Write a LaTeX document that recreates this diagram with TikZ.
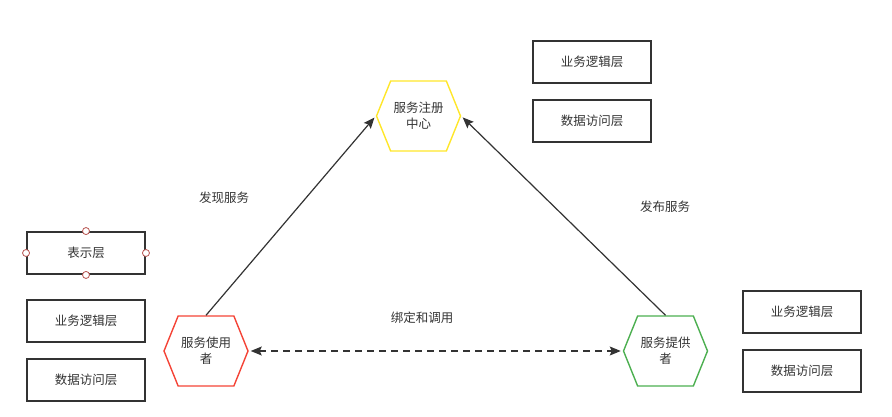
\documentclass[tikz,border=0pt]{standalone}
\usepackage{fontspec}
\setmainfont{Noto Sans CJK SC}
\usetikzlibrary{shapes.symbols, positioning, arrows.meta}

\definecolor{lineclr}{HTML}{333333}
\definecolor{regclr}{HTML}{FFE629}
\definecolor{useclr}{HTML}{F44336}
\definecolor{provclr}{HTML}{4CAF50}
\definecolor{portclr}{HTML}{B85450}

\tikzset{
  hexa/.style={signal, signal to=east and west, signal pointer angle=136,
    minimum width=84pt, minimum height=70pt, inner sep=0pt, line width=1.4pt,
    align=center, text=lineclr, font=\fontsize{12.5}{16}\selectfont},
  layer/.style={draw=lineclr, line width=1.9pt, minimum width=118pt, minimum height=42pt,
    inner sep=0pt, text=lineclr, font=\fontsize{12.5}{15}\selectfont},
  port/.style={circle, draw=portclr, fill=white, line width=0.8pt, minimum size=7pt, inner sep=0pt},
  lbl/.style={text=lineclr, font=\fontsize{12.5}{15}\selectfont},
  link/.style={draw=lineclr, line width=1.2pt, -{Stealth[length=11pt, width=9pt, inset=2pt]}, shorten >=2pt}
}

\begin{document}
\begin{tikzpicture}[x=1pt, y=-1pt, node distance=15pt]

   \useasboundingbox (0,0) rectangle (892,417);

   % centre and the two parties
   \node[hexa, draw=regclr]  (reg)  at (418.5,116) {服务注册\\中心};
   \node[hexa, draw=useclr]  (user) at (206,351)   {服务使用\\者};
   \node[hexa, draw=provclr] (prov) at (665.5,351) {服务提供\\者};

   % layers of the registry
   \node[layer] (regbiz) at (592,62) {业务逻辑层};
   \node[layer] (regdao) [below=of regbiz] {数据访问层};

   % layers of the consumer
   \node[layer] (view)    at (86,253) {表示层};
   \node[layer] (userbiz) [below=24pt of view] {业务逻辑层};
   \node[layer] (userdao) [below=of userbiz] {数据访问层};
   \foreach \a in {north, south, east, west}
      \node[port] at (view.\a) {};

   % layers of the provider
   \node[layer] (provbiz) at (802,312) {业务逻辑层};
   \node[layer] (provdao) [below=of provbiz] {数据访问层};

   \draw[link] (user.north) -- (reg.west);
   \draw[link] (prov.north) -- (reg.east);
   \draw[link, {Stealth[length=11pt, width=9pt, inset=2pt]}-{Stealth[length=11pt, width=9pt, inset=2pt]},
         dash pattern=on 7pt off 5pt, shorten <=2pt] (user.east) -- (prov.west);

   \node[lbl] (find) at (224,198) {发现服务};
   \node[lbl] (pub)  at (665,207) {发布服务};
   \node[lbl] (bind) at (422,318) {绑定和调用};

\end{tikzpicture}
\end{document}
